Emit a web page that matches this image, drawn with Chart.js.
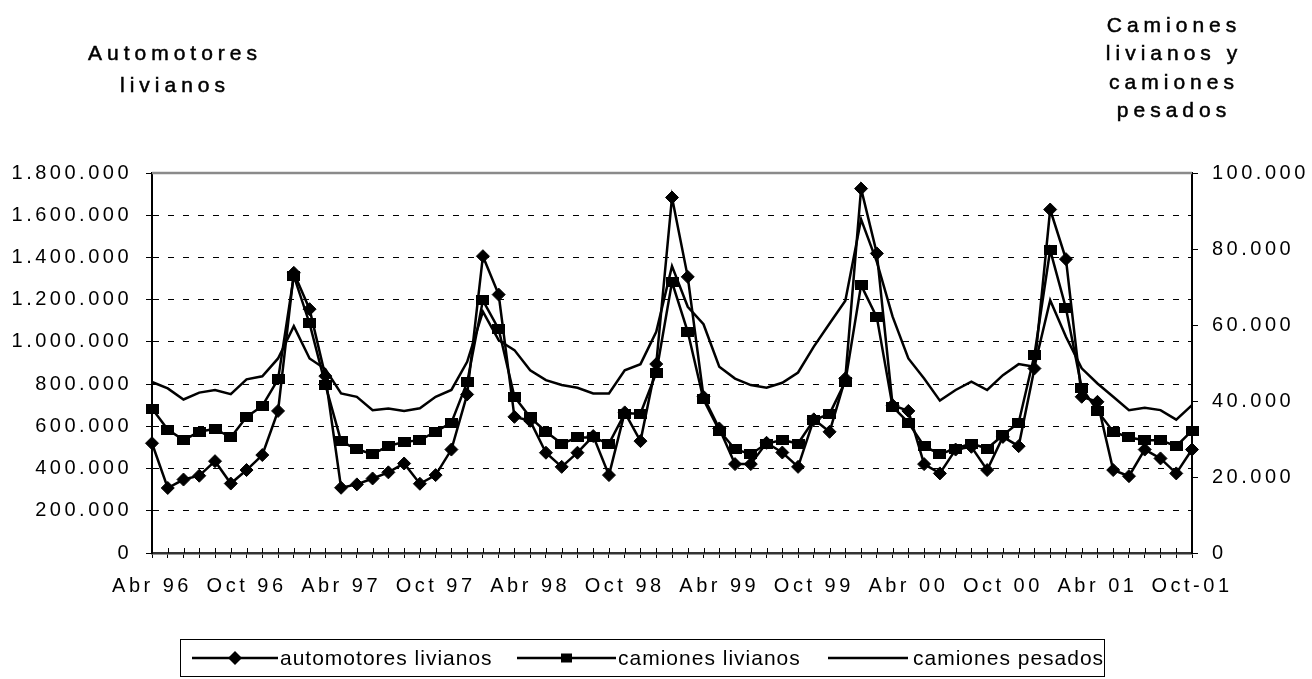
<!DOCTYPE html>
<html><head><meta charset="utf-8">
<script src="https://cdn.jsdelivr.net/npm/chart.js@4.4.1/dist/chart.umd.min.js"></script>
<style>
html,body{margin:0;padding:0;background:#fff;}
#wrap{position:relative;width:1312px;height:679px;overflow:hidden;font-family:"Liberation Sans",Arial,sans-serif;color:#000;}
#chartbox{position:absolute;left:0;top:0;width:1312px;height:679px;}
.ttl{position:absolute;text-align:center;font-size:21px;letter-spacing:5px;padding-left:5px;white-space:nowrap;-webkit-text-stroke:0.5px #000;}
#legend{position:absolute;left:180px;top:639px;width:925px;height:38px;border:1px solid #000;box-sizing:border-box;}
.ls{position:absolute;top:0;height:36px;}
.lt{position:absolute;top:0;height:36px;line-height:36px;font-size:21px;letter-spacing:1px;white-space:nowrap;}
</style></head>
<body><div id="wrap">
<div id="chartbox"><canvas id="c"></canvas></div>
<div class="ttl" style="left:70px;top:37px;width:200px;line-height:32px;">Automotores<br>livianos</div>
<div class="ttl" style="left:1069px;top:11px;width:200px;line-height:28.4px;">Camiones<br>livianos y<br>camiones<br>pesados</div>
<div id="legend">
  <svg class="ls" style="left:11px" width="86" height="36"><line x1="0" y1="18" x2="86" y2="18" stroke="#000" stroke-width="2.5"/><polygon points="43,11 50,18 43,25 36,18" fill="#000"/></svg>
  <div class="lt" style="left:99px">automotores livianos</div>
  <svg class="ls" style="left:336px" width="99" height="36"><line x1="0" y1="18" x2="99" y2="18" stroke="#000" stroke-width="2.5"/><rect x="44" y="13.5" width="11" height="9" fill="#000"/></svg>
  <div class="lt" style="left:437px">camiones livianos</div>
  <svg class="ls" style="left:647px" width="80" height="36"><line x1="0" y1="18" x2="80" y2="18" stroke="#000" stroke-width="2.5"/></svg>
  <div class="lt" style="left:732px">camiones pesados</div>
</div>
</div>
<script>
const categories = ["Abr 96","May 96","Jun 96","Jul 96","Ago 96","Sep 96","Oct 96","Nov 96","Dic 96",
"Ene 97","Feb 97","Mar 97","Abr 97","May 97","Jun 97","Jul 97","Ago 97","Sep 97","Oct 97","Nov 97","Dic 97",
"Ene 98","Feb 98","Mar 98","Abr 98","May 98","Jun 98","Jul 98","Ago 98","Sep 98","Oct 98","Nov 98","Dic 98",
"Ene 99","Feb 99","Mar 99","Abr 99","May 99","Jun 99","Jul 99","Ago 99","Sep 99","Oct 99","Nov 99","Dic 99",
"Ene 00","Feb 00","Mar 00","Abr 00","May 00","Jun 00","Jul 00","Ago 00","Sep 00","Oct 00","Nov 00","Dic 00",
"Ene 01","Feb 01","Mar 01","Abr 01","May 01","Jun 01","Jul 01","Ago 01","Sep 01","Oct-01"];
const tickLabels = ["Abr 96","Oct 96","Abr 97","Oct 97","Abr 98","Oct 98","Abr 99","Oct 99","Abr 00","Oct 00","Abr 01","Oct-01"];
const automotoresLivianos = [520000,308000,348000,366000,435000,329000,393000,464000,673000,
1327000,1155000,838000,309000,325000,353000,382000,424000,328000,369000,490000,751000,
1406000,1224000,645000,626000,475000,408000,475000,554000,369000,666000,530000,895000,
1684000,1308000,740000,590000,421000,421000,522000,476000,408000,633000,574000,827000,
1726000,1419000,700000,673000,421000,377000,490000,503000,393000,550000,506000,874000,
1627000,1392000,740000,716000,393000,364000,490000,448000,377000,490000];
const camionesLivianos = [38000,32500,29700,31900,32700,30400,35800,38700,45700,
72900,60400,44300,29400,27300,26000,28200,29200,29700,31900,34300,44900,
66500,58900,41100,35700,31900,28800,30400,30400,28800,36700,36700,47400,
71300,58200,40400,32200,27300,26000,28800,29700,28800,35000,36600,45100,
70500,62000,38500,34300,28100,26000,27500,28800,27500,31000,34300,52100,
79700,64400,43500,37400,31900,30400,29700,29700,28100,32200];
const camionesPesados = [45000,43300,40400,42200,42900,41800,45700,46500,51200,
59700,51200,48400,42000,41100,37600,38000,37400,38100,41100,42900,50300,
63500,56000,53400,48100,45500,44200,43500,42000,42000,48100,49700,58200,
75500,64800,60200,49000,45900,44200,43500,44800,47500,54300,60400,66400,
87800,76600,62200,51200,45900,40100,42900,45100,42900,46800,49700,49000,
66500,56900,48600,44600,41100,37600,38200,37600,35100,38900];
const seriesNames = ["automotores livianos","camiones livianos","camiones pesados"];

function fmt(v){ return String(v).replace(/\B(?=(\d{3})+(?!\d))/g,'.'); }

const sq = document.createElement('canvas');
sq.width = 13; sq.height = 10;
(function(){ const g = sq.getContext('2d'); g.fillStyle = '#000'; g.fillRect(0,0,13,10); })();

const LS = '3.5px';
const spacingPlugin = {
  id: 'spacing',
  beforeUpdate(chart){ chart.ctx.letterSpacing = LS; },
  beforeDraw(chart){ chart.ctx.letterSpacing = LS; }
};
const framePlugin = {
  id: 'frame',
  beforeDatasetsDraw(chart){
    const {ctx, chartArea:a, scales} = chart;
    ctx.save();
    ctx.strokeStyle = '#8a8a8a'; ctx.lineWidth = 2.5;
    ctx.beginPath(); ctx.moveTo(a.left, a.top); ctx.lineTo(a.right, a.top); ctx.stroke();
    ctx.strokeStyle = '#000'; ctx.lineWidth = 1;
    ctx.beginPath();
    for (let i = 0; i < categories.length; i++) {
      const x = Math.round(scales.x.getPixelForValue(i)) + 0.5;
      ctx.moveTo(x, a.bottom - 5); ctx.lineTo(x, a.bottom);
    }
    ctx.stroke();
    ctx.restore();
  }
};

const tickFont = {family: '"Liberation Sans", Arial, sans-serif', size: 20};
new Chart(document.getElementById('c'), {
  type: 'line',
  data: {
    labels: categories,
    datasets: [
      {label: seriesNames[0], data: automotoresLivianos, yAxisID: 'y', borderColor: '#000', borderWidth: 2.5,
       pointStyle: 'rectRot', pointRadius: 6.5, pointBackgroundColor: '#000', pointBorderColor: '#000', pointBorderWidth: 1, tension: 0, clip: false},
      {label: seriesNames[1], data: camionesLivianos, yAxisID: 'y1', borderColor: '#000', borderWidth: 2.5,
       pointStyle: sq, pointRadius: 6, tension: 0, clip: false},
      {label: seriesNames[2], data: camionesPesados, yAxisID: 'y1', borderColor: '#000', borderWidth: 2.5,
       pointRadius: 0, tension: 0, clip: false}
    ]
  },
  options: {
    responsive: true, maintainAspectRatio: false, animation: false,
    layout: {padding: {top: 173, left: 0, right: 0, bottom: 0}},
    plugins: {legend: {display: false}, tooltip: {enabled: false}, title: {display: false}},
    events: [],
    scales: {
      x: {
        type: 'category', offset: false,
        grid: {drawOnChartArea: false, drawTicks: true, tickLength: 5, tickColor: '#000', lineWidth: 1},
        border: {display: true, color: '#333', width: 2.5},
        ticks: {autoSkip: false, maxRotation: 0, minRotation: 0, color: '#000', font: tickFont, padding: 16,
          callback: function(v, i){ const l = categories[i]; return tickLabels.includes(l) ? l : ''; }},
        afterFit: s => { s.height = 126; }
      },
      y: {
        position: 'left', min: 0, max: 1800000,
        grid: {color: c => (c.tick && (c.tick.value === 0 || c.tick.value === 1800000)) ? 'rgba(0,0,0,0)' : '#000',
               lineWidth: 1, drawTicks: true, tickLength: 6, tickColor: '#000', tickWidth: 1},
        border: {display: true, color: '#000', width: 2, dash: [6, 9]},
        ticks: {stepSize: 200000, color: '#000', font: tickFont, padding: 14, callback: v => fmt(v)},
        afterFit: s => { s.width = 152; }
      },
      y1: {
        position: 'right', min: 0, max: 100000,
        grid: {drawOnChartArea: false, drawTicks: true, tickLength: 6, tickColor: '#000', tickWidth: 1},
        border: {display: true, color: '#000', width: 2},
        ticks: {stepSize: 20000, color: '#000', font: tickFont, padding: 14, callback: v => fmt(v)},
        afterFit: s => { s.width = 120; }
      }
    }
  },
  plugins: [spacingPlugin, framePlugin]
});
</script>
</body></html>
